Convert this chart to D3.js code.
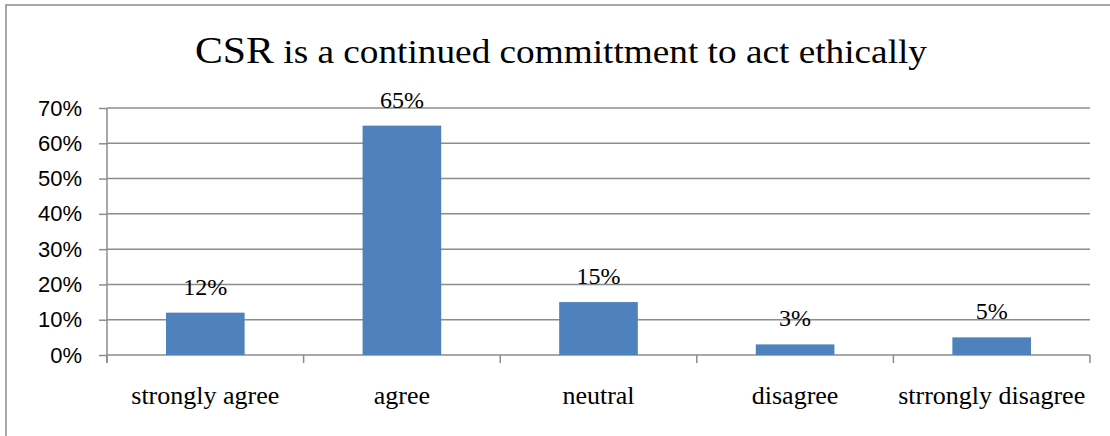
<!DOCTYPE html>
<html>
<head>
<meta charset="utf-8">
<script src="https://cdn.jsdelivr.net/npm/d3@7"></script>
<style>
  body { margin: 0; background: #fff; }
  svg { display: block; }
</style>
</head>
<body>
<div id="chart"></div>
<script>
var categories = ["strongly agree", "agree", "neutral", "disagree", "strrongly disagree"];
var values = [0.12, 0.65, 0.15, 0.03, 0.05];
var valueLabels = ["12%", "65%", "15%", "3%", "5%"];
var yTicks = [0, 0.1, 0.2, 0.3, 0.4, 0.5, 0.6, 0.7];

var svgWidth = 1110;
var svgHeight = 436;

var margin = { top: 108, right: 20, bottom: 81, left: 107 };
var chartWidth = 1090 - margin.left;
var chartHeight = 355 - margin.top;

var serif = "'Liberation Serif', 'Times New Roman', serif";

var svg = d3.select("#chart").append("svg")
    .attr("width", svgWidth)
    .attr("height", svgHeight);

// outer frame (runs off the right and bottom edges)
svg.append("rect")
    .attr("x", 6)
    .attr("y", 5)
    .attr("width", 1200)
    .attr("height", 500)
    .attr("fill", "none")
    .attr("stroke", "#8c8c8c")
    .attr("stroke-width", 1.5);

// title
var title = svg.append("text")
    .attr("x", 561)
    .attr("y", 63)
    .attr("text-anchor", "middle")
    .attr("textLength", 732)
    .attr("lengthAdjust", "spacingAndGlyphs")
    .style("font-family", serif)
    .style("fill", "#000");
title.append("tspan").style("font-size", "37px").text("CSR");
title.append("tspan").style("font-size", "33px").text(" is a continued committment to act ethically");

var chartGroup = svg.append("g")
    .attr("transform", `translate(${margin.left}, ${margin.top})`);

var xScale = d3.scaleBand()
    .domain(categories)
    .range([0, chartWidth])
    .padding(0);

var yScale = d3.scaleLinear()
    .domain([0, 0.7])
    .range([chartHeight, 0]);

// gridlines
chartGroup.selectAll(".grid")
    .data(yTicks)
    .enter()
    .append("line")
    .attr("x1", 0)
    .attr("x2", chartWidth)
    .attr("y1", d => yScale(d))
    .attr("y2", d => yScale(d))
    .attr("stroke", "#8c8c8c")
    .attr("stroke-width", 1.5);

// y axis
var leftAxis = d3.axisLeft(yScale)
    .tickValues(yTicks)
    .tickFormat(d3.format(".0%"))
    .tickSize(8)
    .tickPadding(17);

var yAxis = chartGroup.append("g").call(leftAxis);
yAxis.select(".domain").remove();
yAxis.selectAll(".tick line").attr("stroke", "#8c8c8c").attr("stroke-width", 1.5);
yAxis.selectAll(".tick text")
    .style("font-family", "'Liberation Sans', Arial, sans-serif")
    .style("font-size", "22px")
    .style("fill", "#000");

chartGroup.append("line")
    .attr("x1", 0).attr("x2", 0)
    .attr("y1", 0).attr("y2", chartHeight + 8)
    .attr("stroke", "#8c8c8c")
    .attr("stroke-width", 1.5);

// category ticks at band boundaries
var boundaries = categories.map(c => xScale(c)).concat([chartWidth]);
chartGroup.selectAll(".xtick")
    .data(boundaries)
    .enter()
    .append("line")
    .attr("x1", d => d).attr("x2", d => d)
    .attr("y1", chartHeight).attr("y2", chartHeight + 8)
    .attr("stroke", "#8c8c8c")
    .attr("stroke-width", 1.5);

// bars
var barWidth = xScale.bandwidth() * 0.4;
chartGroup.selectAll(".bar")
    .data(values)
    .enter()
    .append("rect")
    .attr("x", (d, i) => xScale(categories[i]) + (xScale.bandwidth() - barWidth) / 2)
    .attr("y", d => yScale(d))
    .attr("width", barWidth)
    .attr("height", d => chartHeight - yScale(d))
    .attr("fill", "#4f81bd");

// value labels
chartGroup.selectAll(".vlabel")
    .data(values)
    .enter()
    .append("text")
    .attr("x", (d, i) => xScale(categories[i]) + xScale.bandwidth() / 2)
    .attr("y", d => yScale(d) - 18)
    .attr("text-anchor", "middle")
    .style("font-family", serif)
    .style("font-size", "24px")
    .style("fill", "#000")
    .text((d, i) => valueLabels[i]);

// category labels
chartGroup.selectAll(".clabel")
    .data(categories)
    .enter()
    .append("text")
    .attr("x", d => xScale(d) + xScale.bandwidth() / 2)
    .attr("y", chartHeight + 49)
    .attr("text-anchor", "middle")
    .style("font-family", serif)
    .style("font-size", "26px")
    .style("fill", "#000")
    .text(d => d);
</script>
</body>
</html>
